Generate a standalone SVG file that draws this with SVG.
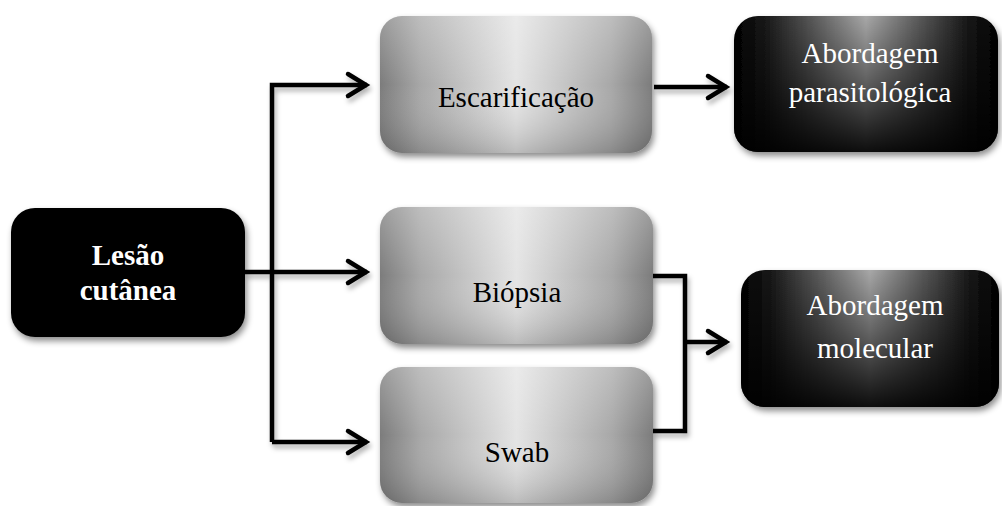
<svg xmlns="http://www.w3.org/2000/svg" width="1002" height="506" viewBox="0 0 1002 506">
<style>
text{font-family:'Liberation Serif','Times New Roman','DejaVu Serif',serif;font-size:29px;text-anchor:middle}
.dk{fill:#000}
.lt{fill:#fff}
.b{font-weight:bold}
.conn{fill:none;stroke:#000;stroke-width:4.5;stroke-linejoin:miter}
</style>
<defs>
<linearGradient id="gh" x1="0" y1="0" x2="1" y2="0">
<stop offset="0" stop-color="#7c7c7c"/>
<stop offset="0.15" stop-color="#a8a8a8"/>
<stop offset="0.5" stop-color="#e4e4e4"/>
<stop offset="0.85" stop-color="#a8a8a8"/>
<stop offset="1" stop-color="#7c7c7c"/>
</linearGradient>
<linearGradient id="gv" x1="0" y1="0" x2="0" y2="1">
<stop offset="0" stop-color="#fff" stop-opacity="0.25"/>
<stop offset="0.5" stop-color="#fff" stop-opacity="0"/>
<stop offset="1" stop-color="#000" stop-opacity="0.18"/>
</linearGradient>
<linearGradient id="dh" x1="0" y1="0" x2="1" y2="0">
<stop offset="0" stop-color="#000"/>
<stop offset="0.12" stop-color="#1a1a1a"/>
<stop offset="0.3" stop-color="#5a5a5a"/>
<stop offset="0.5" stop-color="#a8a8a8"/>
<stop offset="0.7" stop-color="#5a5a5a"/>
<stop offset="0.88" stop-color="#1a1a1a"/>
<stop offset="1" stop-color="#000"/>
</linearGradient>
<linearGradient id="dv" x1="0" y1="0" x2="0" y2="1">
<stop offset="0" stop-color="#000" stop-opacity="0"/>
<stop offset="0.45" stop-color="#000" stop-opacity="0.4"/>
<stop offset="1" stop-color="#000" stop-opacity="0.92"/>
</linearGradient>
<filter id="sh" x="-10%" y="-10%" width="125%" height="130%">
<feDropShadow dx="2" dy="4" stdDeviation="3" flood-color="#000" flood-opacity="0.45"/>
</filter>
<filter id="lsh" x="-10%" y="-10%" width="130%" height="130%">
<feDropShadow dx="2" dy="4" stdDeviation="2.5" flood-color="#000" flood-opacity="0.3"/>
</filter>
<marker id="arr" markerUnits="userSpaceOnUse" markerWidth="30" markerHeight="30" viewBox="0 0 30 30" refX="24" refY="15" orient="auto">
<path d="M5,4 L23,15 L5,26" fill="none" stroke="#000" stroke-width="4.5" stroke-linecap="round" stroke-linejoin="miter"/>
</marker>
</defs>

<g id="connectors" filter="url(#lsh)">
<path class="conn" d="M245,272 H272"/>
<path class="conn" d="M272,442 V85 H367" marker-end="url(#arr)"/>
<path class="conn" d="M272,272 H367" marker-end="url(#arr)"/>
<path class="conn" d="M272,442 H367" marker-end="url(#arr)"/>
<path class="conn" d="M654,87 H727" marker-end="url(#arr)"/>
<path class="conn" d="M653,276 H685 V431 H653"/>
<path class="conn" d="M685,342 H727" marker-end="url(#arr)"/>
</g>

<g id="lesao">
<rect x="11" y="208" width="234" height="129" rx="24" fill="#000" filter="url(#sh)"/>
<text class="lt b" x="128" y="265">Lesão</text>
<text class="lt b" x="128" y="300">cutânea</text>
</g>

<g id="escarificacao">
<rect x="380" y="16" width="272" height="137" rx="22" fill="url(#gh)" filter="url(#sh)"/>
<rect x="380" y="16" width="272" height="137" rx="22" fill="url(#gv)"/>
<text class="dk" x="516" y="107">Escarificação</text>
</g>

<g id="biopsia">
<rect x="380" y="207" width="273" height="137" rx="22" fill="url(#gh)" filter="url(#sh)"/>
<rect x="380" y="207" width="273" height="137" rx="22" fill="url(#gv)"/>
<text class="dk" x="517" y="302">Biópsia</text>
</g>

<g id="swab">
<rect x="380" y="367" width="273" height="136" rx="22" fill="url(#gh)" filter="url(#sh)"/>
<rect x="380" y="367" width="273" height="136" rx="22" fill="url(#gv)"/>
<text class="dk" x="517" y="462">Swab</text>
</g>

<g id="parasitologica">
<rect x="734" y="16" width="264" height="136" rx="24" fill="url(#dh)" filter="url(#sh)"/>
<rect x="734" y="16" width="264" height="136" rx="24" fill="url(#dv)"/>
<text class="lt" x="870" y="63">Abordagem</text>
<text class="lt" x="870" y="102">parasitológica</text>
</g>

<g id="molecular">
<rect x="741" y="270" width="258" height="137" rx="24" fill="url(#dh)" filter="url(#sh)"/>
<rect x="741" y="270" width="258" height="137" rx="24" fill="url(#dv)"/>
<text class="lt" x="875" y="315">Abordagem</text>
<text class="lt" x="875" y="358">molecular</text>
</g>
</svg>
